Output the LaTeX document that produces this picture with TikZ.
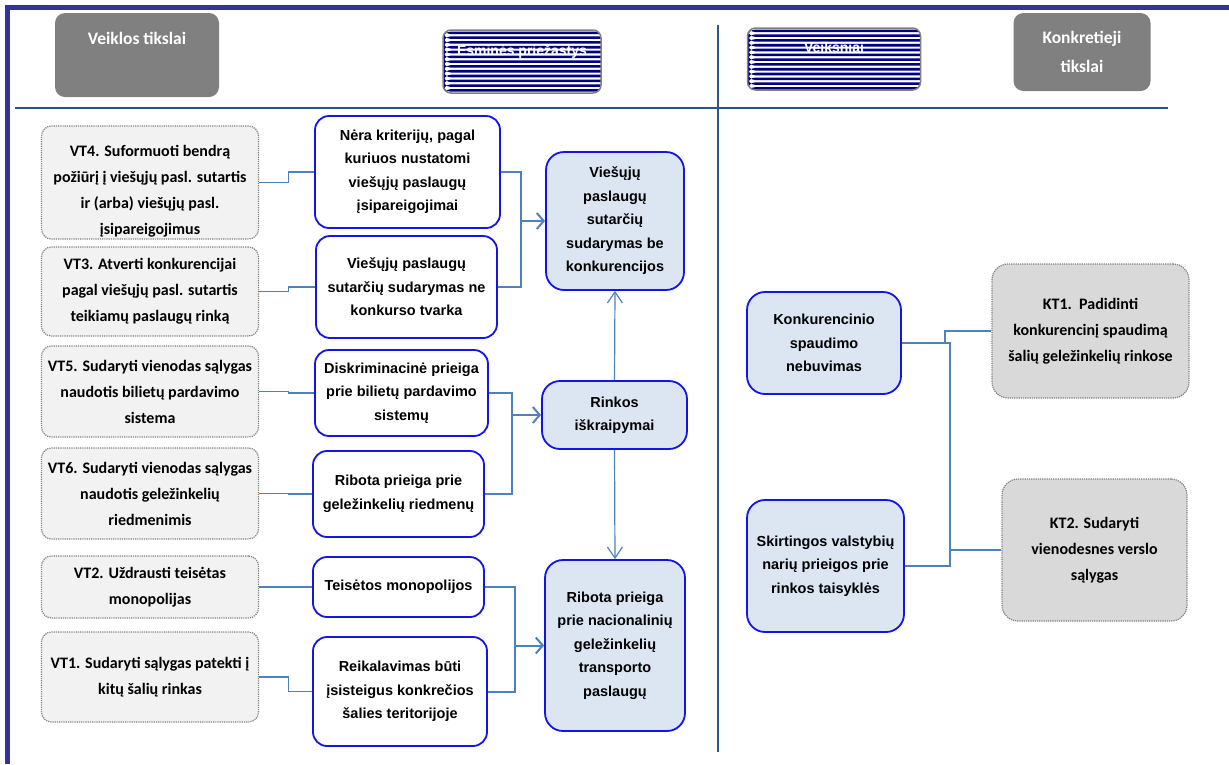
\documentclass[tikz,border=0pt]{standalone}
\usepackage{fontspec}
\setmainfont{Liberation Sans}
\newfontfamily\califont{Carlito}
\usetikzlibrary{arrows.meta}

\definecolor{framecol}{HTML}{333399}
\definecolor{rulecol}{HTML}{2B5486}
\definecolor{hdgray}{HTML}{808080}
\definecolor{navystripe}{HTML}{000080}
\definecolor{vtfill}{HTML}{F2F2F2}
\definecolor{ktfill}{HTML}{D9D9D9}
\definecolor{boxblue}{HTML}{1414E6}
\definecolor{pfill}{HTML}{DCE6F2}
\definecolor{linkcol}{HTML}{4F81BD}

\begin{document}
\begin{tikzpicture}[x=1pt,y=-1pt,
  wh/.style 2 args={minimum width=#1pt,minimum height=#2pt},
  hdbox/.style={fill=hdgray,rounded corners=10pt,inner sep=1pt},
  hdtext/.style={text=white,align=center,font=\califont\bfseries\fontsize{17.5}{29}\selectfont},
  stripebox/.style={draw=gray,line width=1.5pt,rounded corners=8pt,fill=white,
    path picture={\foreach \k in {0,...,13}
      \fill[navystripe] ([yshift={-1.5pt-\k*4.8pt}]path picture bounding box.north west) rectangle ++(200pt,-2.6pt);}},
  stripetext/.style={text=white,font=\bfseries\fontsize{14}{16}\selectfont},
  vtbox/.style={draw=gray,densely dotted,line width=1.2pt,fill=vtfill,rounded corners=10pt,inner sep=1pt},
  vttext/.style={align=center,font=\califont\bfseries\fontsize{16}{26}\selectfont},
  ktbox/.style={vtbox,vttext,fill=ktfill,rounded corners=16pt},
  cbox/.style={draw=boxblue,line width=1.8pt,fill=white,rounded corners=14pt,inner sep=1pt,
    align=center,font=\bfseries\fontsize{14.5}{23.5}\selectfont},
  pbox/.style={cbox,fill=pfill,rounded corners=18pt},
  link/.style={draw=linkcol,line width=1.2pt},
  feed/.style={draw=linkcol,line width=2pt},
  arr/.style={feed,-{Straight Barb[length=7pt,width=16pt]}},
  uparr/.style={link,-{Straight Barb[length=11pt,width=15pt]}}]

\useasboundingbox (0,0) rectangle (1229,764);

\draw[framecol,line width=5pt] (7.5,764) |- (1229,7.5);

\node[hdbox,wh={164}{84}] (vtikslai) at (137,55) {};
\node[hdtext] (vtikslaitxt) at (137,38) {Veiklos tikslai};
\node[stripebox,wh={158}{63}] (esmines) at (522,61.5) {};
\node[stripetext] (esminestxt) at (522,52) {Esminės priežastys};
\node[stripebox,wh={173}{62}] (veiksniai) at (834,59) {};
\node[stripetext] (veiksniaitxt) at (834,47) {Veiksniai};
\node[hdbox,hdtext,wh={137}{78}] (ktikslai) at (1082,52) {Konkretieji\\tikslai};

\draw[rulecol,line width=2.5pt] (15,108) -- (1168,108);
\draw[rulecol,line width=2pt] (718,25) -- (718,752);

\node[vtbox,wh={217}{113}] (vt4) at (150,182.5) {};
\node[vttext] (vt4txt) at (150,191) {VT4. Suformuoti bendrą\\požiūrį į viešųjų pasl. sutartis\\ir (arba) viešųjų pasl.\\įsipareigojimus};
\node[vtbox,vttext,wh={217}{89}] (vt3) at (150,291.5) {VT3. Atverti konkurencijai\\pagal viešųjų pasl. sutartis\\teikiamų paslaugų rinką};
\node[vtbox,vttext,wh={217}{91}] (vt5) at (150,391.5) {VT5. Sudaryti vienodas sąlygas\\naudotis bilietų pardavimo\\sistema};
\node[vtbox,vttext,wh={217}{91}] (vt6) at (150,493.5) {VT6. Sudaryti vienodas sąlygas\\naudotis geležinkelių\\riedmenimis};
\node[vtbox,vttext,wh={217}{62}] (vt2) at (150,587) {VT2. Uždrausti teisėtas\\monopolijas};
\node[vtbox,vttext,wh={217}{90}] (vt1) at (150,677) {VT1. Sudaryti sąlygas patekti į\\kitų šalių rinkas};

\node[cbox,wh={185}{112}] (c1) at (407.5,172) {Nėra kriterijų, pagal\\kuriuos nustatomi\\viešųjų paslaugų\\įsipareigojimai};
\node[cbox,wh={181}{102}] (c2) at (406.5,287) {Viešųjų paslaugų\\sutarčių sudarymas ne\\konkurso tvarka};
\node[cbox,wh={173}{86}] (c3) at (401.5,393) {Diskriminacinė prieiga\\prie bilietų pardavimo\\sistemų};
\node[cbox,wh={171}{86}] (c4) at (398.5,494) {Ribota prieiga prie\\geležinkelių riedmenų};
\node[cbox,wh={171}{60}] (c5) at (398.5,587) {Teisėtos monopolijos};
\node[cbox,wh={174}{109}] (c6) at (400,691.5) {Reikalavimas būti\\įsisteigus konkrečios\\šalies teritorijoje};

\node[pbox,wh={138}{138}] (p1) at (615,221) {Viešųjų\\paslaugų\\sutarčių\\sudarymas be\\konkurencijos};
\node[pbox,wh={145}{68}] (p2) at (614.5,415) {Rinkos\\iškraipymai};
\node[pbox,wh={140}{171}] (p3) at (615,645.5) {Ribota prieiga\\prie nacionalinių\\geležinkelių\\transporto\\paslaugų};

\node[pbox,wh={154}{102}] (k1) at (824,343) {Konkurencinio\\spaudimo\\nebuvimas};
\node[pbox,wh={157}{132}] (k2) at (825.5,566) {Skirtingos valstybių\\narių prieigos prie\\rinkos taisyklės};
\node[ktbox,wh={197}{134}] (kt1) at (1090.5,331) {KT1.\ \ Padidinti\\konkurencinį spaudimą\\šalių geležinkelių rinkose};
\node[ktbox,wh={185}{142}] (kt2) at (1094.5,550) {KT2. Sudaryti\\vienodesnes verslo\\sąlygas};

\draw[link] (vt4.east) -- ++(29,0) |- (c1.west);
\draw[link] (vt3.east) -- ++(29,0) |- (c2.west);
\draw[link] (vt5.east) -- ++(29,0) |- (c3.west);
\draw[link] (vt6.east) -- ++(29,0) |- (c4.west);
\draw[link] (vt2.east) -- ++(29,0) |- (c5.west);
\draw[link] (vt1.east) -- ++(29,0) |- (c6.west);

\coordinate (j1) at (521,221);
\coordinate (j2) at (512,415);
\coordinate (j3) at (515,645.5);
\draw[feed] (c1.east) -| (j1);
\draw[feed] (c2.east) -| (j1);
\draw[arr] (j1) -- (p1.west);
\draw[feed] (c3.east) -| (j2);
\draw[feed] (c4.east) -| (j2);
\draw[arr] (j2) -- (p2.west);
\draw[feed] (c5.east) -| (j3);
\draw[feed] (c6.east) -| (j3);
\draw[arr] (j3) -- (p3.west);

\draw[uparr] (p2.north) -- (p1.south);
\draw[uparr] (p2.south) -- (p3.north);

\coordinate (j4) at (950,550);
\coordinate (j5) at (945,343);
\draw[link] (k1.east) -| (j4) -- (kt2.west);
\draw[link] (k2.east) -| (j4);
\draw[link] (kt1.west) -| (j5);

\end{tikzpicture}
\end{document}
